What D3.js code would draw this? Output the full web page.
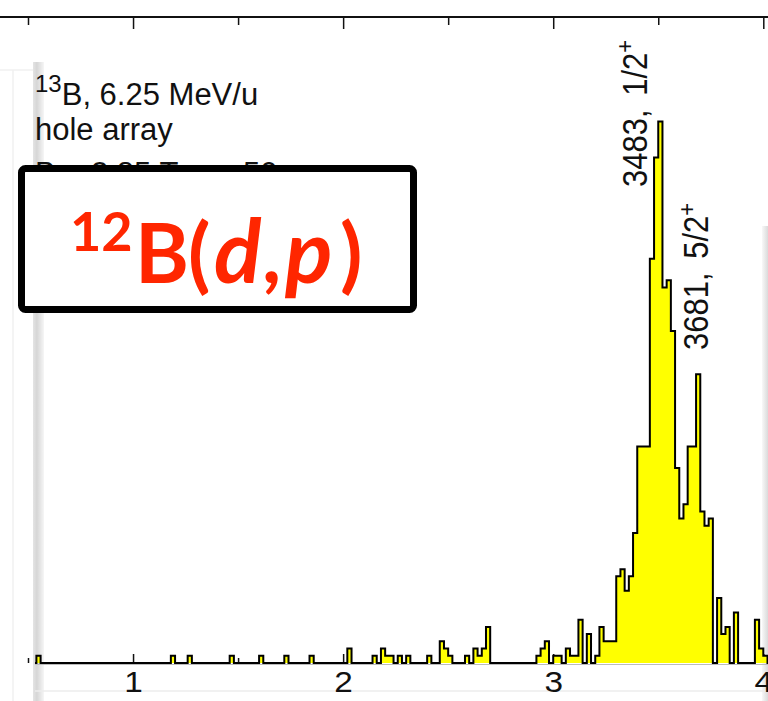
<!DOCTYPE html>
<html>
<head>
<meta charset="utf-8">
<script src="https://cdn.jsdelivr.net/npm/d3@7"></script>
<style>
  body { margin: 0; background: #fff; }
  svg { display: block; }
</style>
</head>
<body>
<svg id="chart" width="768" height="701"></svg>
<script>
// non-zero 20 keV bins of the excitation-energy spectrum (lower edge, MeV)
const binLo = [0.54, 1.18, 1.26, 1.46, 1.60, 1.72, 1.84, 2.02, 2.14, 2.18, 2.20, 2.22, 2.26, 2.30,
  2.40, 2.46, 2.48, 2.50, 2.58, 2.62, 2.64, 2.66, 2.68, 2.92, 2.94, 2.96, 3.00, 3.02, 3.06, 3.08,
  3.10, 3.12, 3.16, 3.20, 3.22, 3.24, 3.26, 3.28, 3.30, 3.32, 3.34, 3.36, 3.38, 3.40, 3.42, 3.44,
  3.46, 3.48, 3.50, 3.52, 3.54, 3.56, 3.58, 3.60, 3.62, 3.64, 3.66, 3.68, 3.70, 3.72, 3.74, 3.78,
  3.80, 3.82, 3.86, 3.96, 3.98, 4.00];
const binCounts = [1, 1, 1, 1, 1, 1, 1, 2, 1, 2, 1, 1, 1, 1,
  1, 3, 2, 1, 1, 2, 1, 2, 5, 1, 2, 3, 1, 1, 2, 1,
  1, 6, 4, 1, 5, 3, 3, 3, 12, 13, 10, 12, 18, 30, 30, 30,
  56, 70, 75, 52, 53, 46, 27, 20, 22, 30, 30, 40, 21, 19, 20, 9,
  4, 5, 7, 6, 2, 1];
const binWidth = 0.02;
const histRange = [0.52, 4.04];

const majorTicks = [1, 2, 3, 4];
const minorTicks = [0.5, 1.5, 2.5, 3.5];

const peakEnergy = [3483, 3681];
const peakSpin = ["1/2", "5/2"];

const svg = d3.select("#chart");
const width = 768, height = 701;

const x = d3.scaleLinear().domain([0.5, 4]).range([28, 763.3]);
const y = d3.scaleLinear().domain([0, 75]).range([663, 121.5]);

// background shadows of the overlapping slides
const defs = svg.append("defs");
const gl = defs.append("linearGradient").attr("id", "shadeL");
gl.append("stop").attr("offset", "0%").attr("stop-color", "#e4e4e4");
gl.append("stop").attr("offset", "35%").attr("stop-color", "#d6d6d6");
gl.append("stop").attr("offset", "100%").attr("stop-color", "#f6f6f6");
const gr = defs.append("linearGradient").attr("id", "shadeR");
gr.append("stop").attr("offset", "0%").attr("stop-color", "#f8f8f8");
gr.append("stop").attr("offset", "100%").attr("stop-color", "#dadada");

svg.append("line").attr("x1", 13).attr("x2", 13).attr("y1", 70).attr("y2", height)
  .attr("stroke", "#f0f0f0").attr("stroke-width", 1.5);
svg.append("line").attr("x1", 0).attr("x2", 33).attr("y1", 70).attr("y2", 70)
  .attr("stroke", "#f0f0f0").attr("stroke-width", 1.5);
svg.append("rect").attr("x", 33).attr("y", 62).attr("width", 11).attr("height", height - 62)
  .attr("fill", "url(#shadeL)");
svg.append("rect").attr("x", 762).attr("y", 226).attr("width", 6).attr("height", height - 226)
  .attr("fill", "url(#shadeR)");
svg.append("line").attr("x1", 35).attr("x2", width).attr("y1", 691).attr("y2", 691)
  .attr("stroke", "#ececec").attr("stroke-width", 1.5);

// axes (drawn below the data, ticks inward)
const font = "'Liberation Sans', Arial, sans-serif";
const topY = 17, botY = 663;
svg.append("line").attr("x1", 0).attr("x2", width).attr("y1", topY).attr("y2", topY)
  .attr("stroke", "#111").attr("stroke-width", 2);

function tickAxis(gen, vals, size, yPos, labels) {
  const g = svg.append("g").attr("transform", `translate(0,${yPos})`)
    .call(gen(x).tickValues(vals).tickSize(size).tickPadding(8)
      .tickFormat(labels ? d3.format("d") : ""));
  g.select(".domain").remove();
  g.selectAll(".tick line").attr("stroke", "#111").attr("stroke-width", 1.5);
  g.selectAll(".tick text").attr("fill", "#111").attr("transform", "scale(1.15,1)")
    .style("font-family", font).style("font-size", "29px");
  return g;
}
tickAxis(d3.axisTop, majorTicks, -12, topY, false);
tickAxis(d3.axisTop, minorTicks, -8, topY, false);
tickAxis(d3.axisBottom, majorTicks, -9, botY, true);
tickAxis(d3.axisBottom, minorTicks, -5, botY, false);
svg.append("line").attr("x1", 35).attr("x2", width).attr("y1", botY + 1.5).attr("y2", botY + 1.5)
  .attr("stroke", "#bbb").attr("stroke-width", 1);

// histogram as a step outline
const pts = [{ e: histRange[0], c: 0 }];
binLo.forEach((lo, i) => {
  const last = pts[pts.length - 1];
  if (Math.abs(last.e - lo) > 1e-6 && last.c !== 0) pts.push({ e: last.e, c: 0 });
  if (Math.abs(pts[pts.length - 1].e - lo) < 1e-6) pts.pop();
  pts.push({ e: lo, c: binCounts[i] });
  pts.push({ e: +(lo + binWidth).toFixed(3), c: 0 });
});
pts.push({ e: histRange[1], c: 0 });

defs.append("clipPath").attr("id", "plotClip").append("rect")
  .attr("x", 35).attr("y", 0).attr("width", width - 35).attr("height", height);

const hist = svg.append("g").attr("clip-path", "url(#plotClip)");
hist.append("path").datum(pts)
  .attr("fill", "#ffff00")
  .attr("d", d3.area().curve(d3.curveStepAfter).x(d => x(d.e)).y0(y(0)).y1(d => y(d.c)));
hist.append("path").datum(pts)
  .attr("fill", "none").attr("stroke", "#000").attr("stroke-width", 2)
  .attr("d", d3.line().curve(d3.curveStepAfter).x(d => x(d.e)).y(d => y(d.c)));

// peak labels
const labelPos = [{ dx: -8, y: 187 }, { dx: 12, y: 350 }];
peakEnergy.forEach((e, i) => {
  const t = svg.append("text")
    .attr("transform", `translate(${x(e / 1000) + labelPos[i].dx},${labelPos[i].y}) rotate(-90) scale(1,1.12)`)
    .style("font-family", font).style("font-size", "31px").style("word-spacing", "5px")
    .attr("fill", "#111");
  t.append("tspan").text(`${e}, ${peakSpin[i]}`);
  t.append("tspan").attr("dy", -12).style("font-size", "22px").text("+");
});

// text block, top left
const info = svg.append("text").attr("x", 35).attr("y", 105)
  .style("font-family", font).style("font-size", "31px").attr("fill", "#111");
info.append("tspan").attr("dy", -13).style("font-size", "24px").text("13");
info.append("tspan").attr("dy", 13).text("B, 6.25 MeV/u");
svg.append("text").attr("x", 35).attr("y", 140)
  .style("font-family", font).style("font-size", "31px").attr("fill", "#111")
  .text("hole array");
svg.append("text").attr("x", 35).attr("y", 184)
  .style("font-family", font).style("font-size", "31px").attr("fill", "#111")
  .text("B = 2.85 T, z = 50 cm");

// reaction box
svg.append("rect").attr("x", 21.5).attr("y", 168.5).attr("width", 392).attr("height", 141)
  .attr("rx", 4).attr("fill", "#fff").attr("stroke", "#000").attr("stroke-width", 7);
const rx = svg.append("text").attr("y", 283)
  .style("font-family", "Lato, 'Open Sans', sans-serif").style("font-weight", 700)
  .attr("fill", "#ff2600").style("font-size", "82px");
rx.append("tspan").attr("x", 70).attr("y", 251).style("font-size", "54px").text("12");
rx.append("tspan").attr("x", 135).attr("y", 283).text("B");
rx.append("tspan").attr("x", 188).text("(");
rx.append("tspan").attr("x", 214).style("font-style", "italic").style("font-size", "88px").text("d");
rx.append("tspan").attr("x", 262).text(",");
rx.append("tspan").attr("x", 285).style("font-style", "italic").style("font-size", "88px").text("p");
rx.append("tspan").attr("x", 340).text(")");
</script>
</body>
</html>
